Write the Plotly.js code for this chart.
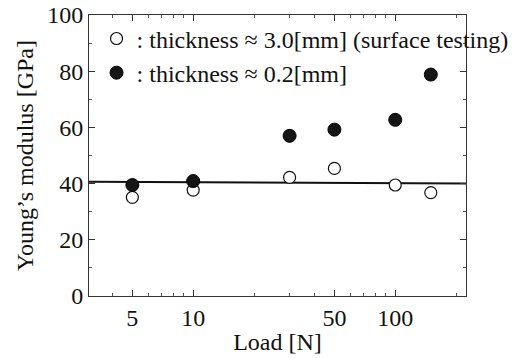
<!DOCTYPE html>
<html><head><meta charset="utf-8">
<script src="https://cdn.plot.ly/plotly-3.0.1.min.js"></script>
<style>html,body{margin:0;padding:0;background:#fff}#c{width:527px;height:358px}</style>
</head><body><div id="c"></div>
<script>
const loads = [5, 10, 30, 50, 100, 150];
const thickModulus = [35.1, 37.7, 42.2, 45.4, 39.5, 36.8];
const thinModulus = [39.5, 40.9, 57.0, 59.2, 62.7, 78.8];
const fitX = [3, 225];
const fitY = [40.7, 40.0];
const xTickVals = [5, 10, 50, 100];
const xTickText = ['5', '10', '50', '100'];
const xMinorVals = [4, 6, 7, 8, 9, 20, 30, 40, 60, 70, 80, 90, 200];
const nameThick = ': thickness ≈ 3.0[mm] (surface testing)';
const nameThin = ': thickness ≈ 0.2[mm]';

const font = {family: 'Liberation Serif, Times New Roman, serif', color: '#111'};
const fs = 24;
const traces = [
  {x: fitX, y: fitY, mode: 'lines', line: {color: '#111', width: 2}, showlegend: false, hoverinfo: 'skip'},
  {x: loads, y: thickModulus, mode: 'markers', name: nameThick,
   marker: {symbol: 'circle', size: 12, color: '#fff', line: {color: '#111', width: 1.2}}},
  {x: loads, y: thinModulus, mode: 'markers', name: nameThin,
   marker: {symbol: 'circle', size: 13, color: '#151515', line: {color: '#000', width: 1}}}
];
const layout = {
  width: 527, height: 358,
  margin: {l: 89, r: 61, t: 15, b: 62, autoexpand: false},
  paper_bgcolor: '#fff', plot_bgcolor: '#fff',
  font: Object.assign({size: fs}, font),
  showlegend: true,
  legend: {x: 0.02, y: 0.995, xanchor: 'left', yanchor: 'top', bgcolor: 'rgba(0,0,0,0)',
           font: Object.assign({size: fs}, font), itemwidth: 30, tracegroupgap: 0},
  xaxis: {type: 'log', range: [Math.log10(3.05), Math.log10(224)], automargin: false, tickangle: 0,
          tickvals: xTickVals, ticktext: xTickText, ticks: 'inside', ticklen: 6, tickcolor: '#333',
          showline: true, linecolor: '#333', linewidth: 1, mirror: 'ticks', showgrid: false, zeroline: false,
          minor: {tickvals: xMinorVals, ticks: 'inside', ticklen: 3, tickcolor: '#555', showgrid: false},
          tickfont: Object.assign({size: fs}, font),
          title: {text: 'Load [N]', font: Object.assign({size: fs}, font), standoff: 3}},
  yaxis: {range: [0, 100], dtick: 20, automargin: false, ticks: 'inside', ticklen: 6, tickcolor: '#333',
          showline: true, linecolor: '#333', linewidth: 1, mirror: 'ticks', showgrid: false, zeroline: false,
          minor: {dtick: 10, ticks: 'inside', ticklen: 3, tickcolor: '#555', showgrid: false},
          tickfont: Object.assign({size: fs}, font),
          title: {text: 'Young’s modulus [GPa]', font: Object.assign({size: fs}, font), standoff: 6}}
};
Plotly.newPlot('c', traces, layout, {displayModeBar: false, staticPlot: true});
</script></body></html>
